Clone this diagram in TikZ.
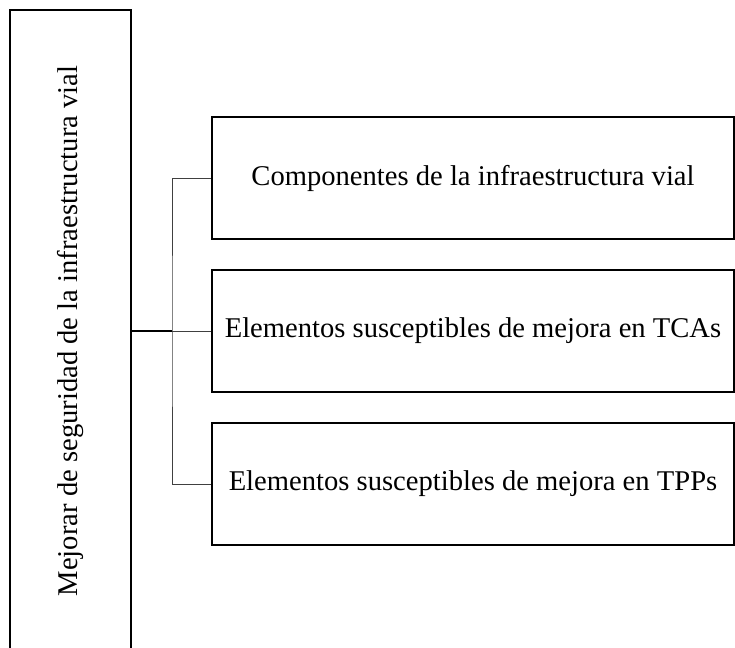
\documentclass[tikz,border=0pt]{standalone}
\usepackage{fontspec}
\setmainfont{Liberation Serif}
\usetikzlibrary{positioning}

\begin{document}
\begin{tikzpicture}[x=0.5pt,y=-0.5pt,
  caja/.style={draw,line width=1.1pt,inner sep=0pt,minimum width=261pt,minimum height=61pt,font=\fontsize{14.3}{16}\selectfont},
  objetivo/.style={draw,line width=1.1pt,inner sep=0pt,minimum width=321pt,minimum height=60.5pt,rotate=90,font=\fontsize{14.3}{16}\selectfont},
  rama/.style={line width=0.5pt,black!75}]
\useasboundingbox (0,0) rectangle (735,648);

% objetivo general
\node[objetivo] (obj) at (70.5,331) {Mejorar de seguridad de la infraestructura vial};

% componentes
\node[caja] (b1) at (473,178) {Componentes de la infraestructura vial};
\node[caja] (b2) at (473,331) {Elementos susceptibles de mejora en TCAs};
\node[caja] (b3) at (473,484) {Elementos susceptibles de mejora en TPPs};

% conectores
\coordinate (nudo) at (172,331);
\draw[line width=1pt] (obj.south |- b2.west) -- (nudo);
\draw[rama] (nudo) -- (b2.west);
\draw[rama] (b1.west) -| (nudo) |- (b3.west);

\end{tikzpicture}
\end{document}
